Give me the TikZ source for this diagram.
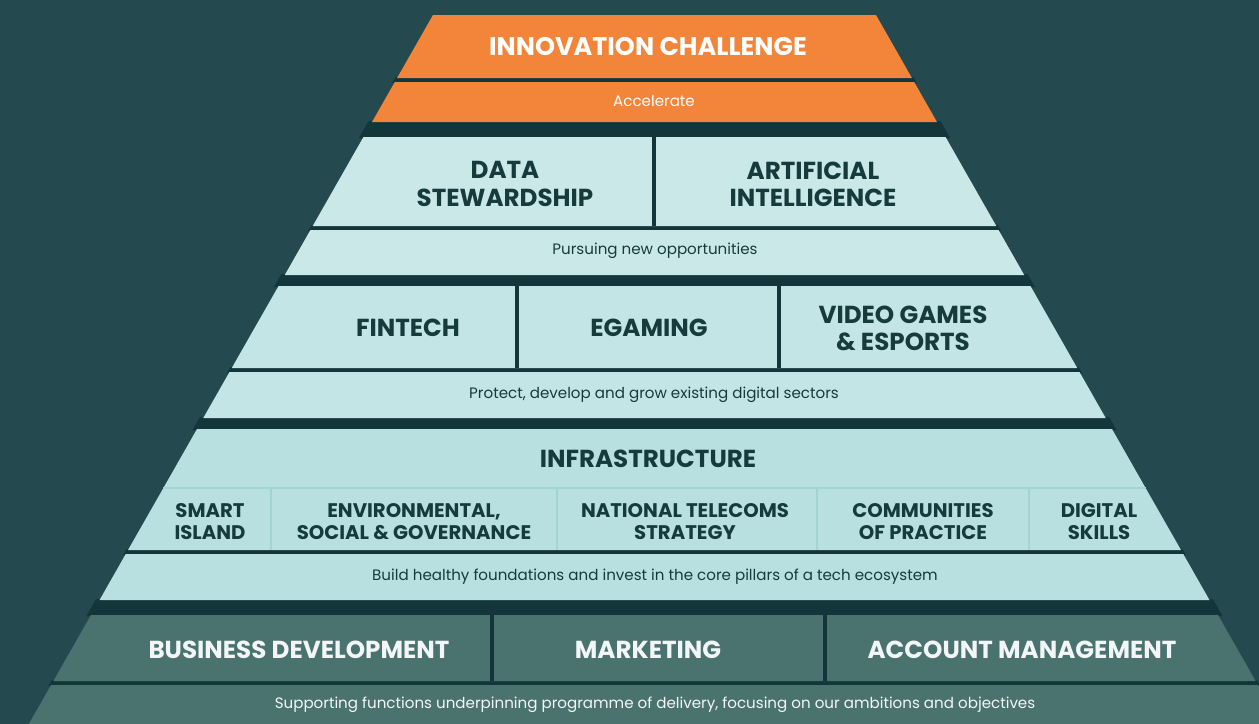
\documentclass[tikz,border=0pt]{standalone}
\usepackage{fontspec}
\setmainfont{Poppins}
\definecolor{bg}{HTML}{244A4F}
\definecolor{sep}{HTML}{12363A}
\definecolor{orng}{HTML}{F28539}
\definecolor{paleA}{HTML}{CBE8E8}
\definecolor{paleB}{HTML}{C3E5E5}
\definecolor{paleC}{HTML}{B8E0E0}
\definecolor{thinline}{HTML}{A3D3D3}
\definecolor{ink}{HTML}{163B3D}
\definecolor{base}{HTML}{4A7370}
\definecolor{basetext}{HTML}{F2F6F6}

% one layer of the pyramid: colour, top, bottom, extra width at the sides
\newcommand{\band}[4]{%
  \fill[#1] ({433-0.57*(#2-15)-#4},#2) -- ({876+0.57*(#2-15)+#4},#2)
    -- ({876+0.57*(#3-15)+#4},#3) -- ({433-0.57*(#3-15)-#4},#3) -- cycle;}

\tikzset{
  bigtitle/.style={font=\bfseries\fontsize{14}{15.5}\selectfont, align=center, text=ink},
  celltitle/.style={font=\bfseries\fontsize{11.2}{12.5}\selectfont, align=center, text=ink},
  subline/.style={font=\fontsize{8.6}{10}\selectfont, text=ink},
  divider/.style={sep, line width=2.2pt},
  softdivider/.style={thinline, line width=0.7pt}
}

\begin{document}
\begin{tikzpicture}[x=0.02cm, y=-0.02cm]
  \useasboundingbox (0,0) rectangle (1259,724);
  \clip (0,0) rectangle (1259,724);
  \fill[bg] (0,0) rectangle (1259,724);

  % Layers
  \foreach \col/\t/\b/\e in {sep/77/83/2, sep/121/138/4, sep/225/231/2, sep/274/287/4,
      sep/367/373/2, sep/417/430/4, sep/549/555/2, sep/599/616/4, sep/680/686/2} {
    \band{\col}{\t}{\b}{\e}
  }
  \foreach \col/\t/\b in {orng/15/78, orng/82/122, paleA/137/226, paleA/230/275,
      paleB/286/368, paleB/372/418, paleC/429/550, paleC/554/600, base/615/681, base/685/735} {
    \band{\col}{\t}{\b}{0}
  }

  % Dividers
  \foreach \x/\t/\b in {654/137/226, 517/286/368, 779/286/368, 492/615/681, 825/615/681} {
    \draw[divider] (\x,\t) -- (\x,\b);
  }
  \draw[softdivider] ({433-0.57*(488-15)},488) -- ({876+0.57*(488-15)},488);
  \foreach \x in {271, 557, 817, 1029} {
    \draw[softdivider] (\x,488) -- (\x,550);
  }

  % Top: innovation
  \node[bigtitle, font=\bfseries\fontsize{14.5}{16}\selectfont, text=white] (innovation) at (648,47) {INNOVATION CHALLENGE};
  \node[subline, text=white] (accelerate) at (654,101) {Accelerate};

  % New opportunities
  \node[bigtitle] (datastew) at (505,184) {DATA\\STEWARDSHIP};
  \node[bigtitle] (ai) at (813,184) {ARTIFICIAL\\INTELLIGENCE};
  \node[subline] (pursuing) at (655,251) {Pursuing new opportunities};

  % Existing sectors
  \node[bigtitle] (fintech) at (408,328) {FINTECH};
  \node[bigtitle] (egaming) at (649,328) {EGAMING};
  \node[bigtitle] (videogames) at (903,328) {VIDEO GAMES\\\& ESPORTS};
  \node[subline] (protect) at (654,395) {Protect, develop and grow existing digital sectors};

  % Infrastructure
  \node[bigtitle] (infra) at (648,459) {INFRASTRUCTURE};
  \node[celltitle] (smart) at (210,522) {SMART\\ISLAND};
  \node[celltitle] (esg) at (414,522) {ENVIRONMENTAL,\\SOCIAL \& GOVERNANCE};
  \node[celltitle] (telecoms) at (685,522) {NATIONAL TELECOMS\\STRATEGY};
  \node[celltitle] (communities) at (923,522) {COMMUNITIES\\OF PRACTICE};
  \node[celltitle] (skills) at (1099,522) {DIGITAL\\SKILLS};
  \node[subline] (build) at (655,577) {Build healthy foundations and invest in the core pillars of a tech ecosystem};

  % Supporting functions
  \node[bigtitle, text=basetext] (busdev) at (299,650) {BUSINESS DEVELOPMENT};
  \node[bigtitle, text=basetext] (marketing) at (648,650) {MARKETING};
  \node[bigtitle, text=basetext] (account) at (1022,650) {ACCOUNT MANAGEMENT};
  \node[subline, text=basetext] (supporting) at (655,705) {Supporting functions underpinning programme of delivery, focusing on our ambitions and objectives};
\end{tikzpicture}
\end{document}
